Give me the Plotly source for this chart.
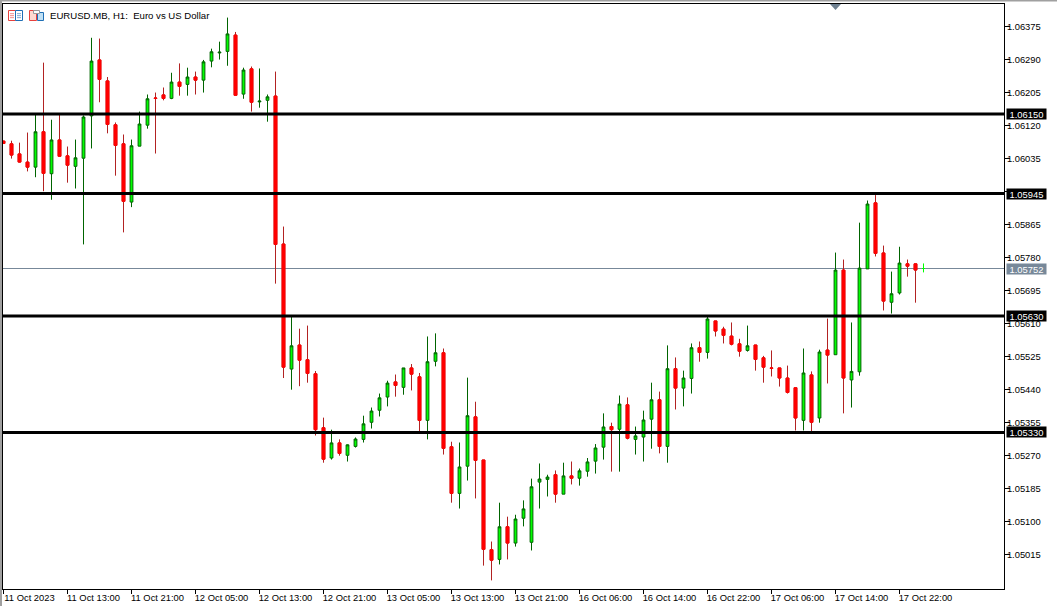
import plotly.graph_objects as go

opens = [1.06080,1.06073,1.06047,1.06026,1.06013,1.06104,1.05996,1.06083,1.06042,1.06015,1.06036,1.06145,1.06289,1.06235,1.06122,1.06073,
1.05923,1.06067,1.06121,1.06191,1.06199,1.06190,1.06232,1.06226,1.06245,1.06237,1.06286,1.06307,1.06311,1.06353,1.06201,1.06266,
1.06181,1.06185,1.06196,1.05815,1.05493,1.05555,1.05517,1.05481,1.05342,1.05264,1.05303,1.05271,1.05294,1.05312,1.05356,1.05387,
1.05421,1.05460,1.05446,1.05496,1.05473,1.05361,1.05513,1.05535,1.05293,1.05173,1.05243,1.05370,1.05259,1.05028,1.05003,1.05087,
1.05045,1.05109,1.05047,1.05202,1.05209,1.05221,1.05171,1.05218,1.05212,1.05230,1.05256,1.05292,1.05345,1.05338,1.05401,1.05312,
1.05318,1.05364,1.05414,1.05294,1.05494,1.05444,1.05469,1.05548,1.05536,1.05617,1.05596,1.05578,1.05558,1.05541,1.05555,1.05522,
1.05496,1.05496,1.05470,1.05445,1.05361,1.05478,1.05367,1.05542,1.05530,1.05748,1.05465,1.05486,1.05751,1.05921,1.05792,1.05665,
1.05689,1.05764,1.05764,1.05752]
highs = [1.06081,1.06081,1.06076,1.06102,1.06150,1.06282,1.06135,1.06150,1.06066,1.06084,1.06146,1.06346,1.06344,1.06245,1.06128,1.06097,
1.06084,1.06156,1.06200,1.06205,1.06218,1.06256,1.06280,1.06269,1.06259,1.06289,1.06318,1.06336,1.06398,1.06361,1.06269,1.06272,
1.06267,1.06200,1.06259,1.05860,1.05627,1.05597,1.05605,1.05488,1.05368,1.05337,1.05312,1.05299,1.05317,1.05373,1.05394,1.05430,
1.05463,1.05479,1.05496,1.05506,1.05483,1.05577,1.05585,1.05546,1.05306,1.05304,1.05471,1.05409,1.05259,1.05049,1.05149,1.05113,
1.05118,1.05155,1.05211,1.05250,1.05221,1.05232,1.05252,1.05255,1.05237,1.05264,1.05300,1.05379,1.05355,1.05425,1.05420,1.05345,
1.05386,1.05458,1.05435,1.05554,1.05523,1.05489,1.05559,1.05564,1.05628,1.05617,1.05602,1.05613,1.05571,1.05605,1.05555,1.05527,
1.05541,1.05496,1.05502,1.05445,1.05546,1.05487,1.05543,1.05623,1.05793,1.05775,1.05613,1.05870,1.05927,1.05941,1.05811,1.05744,
1.05808,1.05775,1.05764,1.05765]
lows = [1.06073,1.06035,1.06025,1.06002,1.05987,1.05951,1.05929,1.06041,1.05973,1.05958,1.05814,1.06061,1.06180,1.06100,1.05991,1.05845,
1.05910,1.06067,1.06112,1.06048,1.06185,1.06188,1.06197,1.06197,1.06200,1.06205,1.06270,1.06290,1.06274,1.06198,1.06189,1.06156,
1.06166,1.06130,1.05713,1.05470,1.05440,1.05449,1.05458,1.05322,1.05252,1.05260,1.05270,1.05255,1.05291,1.05304,1.05340,1.05371,
1.05397,1.05422,1.05427,1.05438,1.05330,1.05312,1.05500,1.05273,1.05149,1.05134,1.05206,1.05160,1.04987,1.04949,1.04990,1.05003,
1.05036,1.05088,1.05026,1.05134,1.05165,1.05149,1.05171,1.05196,1.05193,1.05216,1.05224,1.05260,1.05229,1.05229,1.05312,1.05273,
1.05255,1.05288,1.05276,1.05252,1.05389,1.05397,1.05430,1.05512,1.05520,1.05577,1.05559,1.05554,1.05525,1.05538,1.05489,1.05458,
1.05474,1.05448,1.05430,1.05335,1.05335,1.05330,1.05355,1.05456,1.05530,1.05379,1.05394,1.05476,1.05751,1.05783,1.05644,1.05636,
1.05685,1.05731,1.05664,1.05742]
closes = [1.06074,1.06044,1.06026,1.06013,1.06104,1.05997,1.06083,1.06041,1.06018,1.06037,1.06142,1.06286,1.06239,1.06123,1.06069,1.05925,
1.06068,1.06124,1.06189,1.06190,1.06190,1.06232,1.06221,1.06245,1.06237,1.06284,1.06310,1.06309,1.06356,1.06198,1.06263,1.06180,
1.06183,1.06194,1.05814,1.05498,1.05553,1.05516,1.05482,1.05337,1.05261,1.05303,1.05276,1.05298,1.05313,1.05352,1.05385,1.05419,
1.05457,1.05451,1.05496,1.05480,1.05361,1.05512,1.05535,1.05289,1.05173,1.05241,1.05373,1.05258,1.05029,1.05001,1.05087,1.05045,
1.05107,1.05133,1.05190,1.05210,1.05215,1.05171,1.05218,1.05212,1.05231,1.05254,1.05290,1.05344,1.05337,1.05403,1.05315,1.05321,
1.05362,1.05414,1.05294,1.05494,1.05444,1.05470,1.05548,1.05536,1.05622,1.05591,1.05580,1.05557,1.05539,1.05553,1.05518,1.05498,
1.05495,1.05470,1.05433,1.05367,1.05483,1.05356,1.05537,1.05529,1.05748,1.05470,1.05487,1.05753,1.05918,1.05791,1.05668,1.05687,
1.05766,1.05758,1.05748,1.05752]

xtick_idx = [0,8,16,24,32,40,48,56,64,72,80,88,96,104,112]
xtick_labels = ["11 Oct 2023","11 Oct 13:00","11 Oct 21:00","12 Oct 05:00","12 Oct 13:00","12 Oct 21:00",
                "13 Oct 05:00","13 Oct 13:00","13 Oct 21:00","16 Oct 06:00","16 Oct 14:00","16 Oct 22:00",
                "17 Oct 06:00","17 Oct 14:00","17 Oct 22:00"]
ytick_vals = [1.06375,1.06290,1.06205,1.06120,1.06035,1.05950,1.05865,1.05780,1.05695,1.05610,1.05525,1.05440,1.05355,1.05270,1.05185,1.05100,1.05015]
ytick_labels = ["1.06375","1.06290","1.06205","1.06120","1.06035","","1.05865","1.05780","1.05695","1.05610","1.05525","1.05440","1.05355","1.05270","1.05185","1.05100","1.05015"]
levels = [1.06150,1.05945,1.05630,1.05330]
current_price = 1.05752
title_text = "EURUSD.MB, H1:  Euro vs US Dollar"

FONT = "Liberation Sans, Arial, sans-serif"
W, H = 1057, 606
L, R, T, B = 3, 53, 4, 17
pw, ph = W - L - R, H - T - B
def px(x): return (x - L) / pw
def py(y): return 1 - (y - T) / ph

n = len(opens)
xs = list(range(n))
down = [i for i in xs if closes[i] < opens[i]]

fig = go.Figure()
fig.add_trace(go.Candlestick(
    x=xs[:-1], open=opens[:-1], high=highs[:-1], low=lows[:-1], close=closes[:-1],
    increasing=dict(line=dict(color="#006400", width=1), fillcolor="#00FF00"),
    decreasing=dict(line=dict(color="#B22222", width=1), fillcolor="#FF0000"),
    whiskerwidth=0, showlegend=False, hoverinfo="skip"))
fig.add_trace(go.Candlestick(
    x=down, open=[opens[i] for i in down], close=[closes[i] for i in down],
    high=[opens[i] for i in down], low=[closes[i] for i in down],
    decreasing=dict(line=dict(color="#FF0000", width=1), fillcolor="#FF0000"),
    whiskerwidth=0, showlegend=False, hoverinfo="skip"))
fig.add_trace(go.Candlestick(
    x=xs[-1:], open=opens[-1:], high=highs[-1:], low=lows[-1:], close=closes[-1:],
    increasing=dict(line=dict(color="#00FF00", width=1), fillcolor="#00FF00"),
    whiskerwidth=0, showlegend=False, hoverinfo="skip"))

shapes = [dict(type="line", xref="paper", x0=0, x1=1, yref="y", y0=current_price, y1=current_price,
               line=dict(color="#778899", width=1), layer="below")]
for lv in levels:
    shapes.append(dict(type="line", xref="paper", x0=0, x1=1, yref="y", y0=lv, y1=lv,
                       line=dict(color="#000000", width=3), layer="above"))

def rect(x0, y0, x1, y1, fill, line=None, w=1):
    return dict(type="rect", xref="paper", yref="paper", x0=px(x0), x1=px(x1), y0=py(y0), y1=py(y1),
                fillcolor=fill, line=dict(color=line or fill, width=w if line else 0), layer="above")

# window chrome
shapes.append(rect(0, 0, W, 1.5, "#A0A0A0"))
shapes.append(rect(0, 0, 2, H, "#A0A0A0"))
# toolbar icons
shapes += [rect(8.5, 10.5, 15.5, 20.5, "#FFFFFF", "#E8413C"), rect(15.5, 10.5, 22.5, 20.5, "#FFFFFF", "#1F6FB5")]
for yy in (13.5, 15.5, 17.5):
    shapes += [rect(10, yy, 14, yy + .6, "#E8413C"), rect(17, yy, 21, yy + .6, "#1F6FB5")]
shapes += [rect(29.5, 10.5, 36.5, 20.5, "#FFD9CF", "#E8413C"), rect(37.5, 12.5, 43.5, 20.5, "#BFE0F5", "#1F6FB5"),
           rect(33.5, 10.5, 39.5, 13.5, "#FFFFFF", "#999999")]
# scroll marker
shapes.append(dict(type="path", xref="paper", yref="paper",
                   path=f"M {px(830)} {py(4)} L {px(841)} {py(4)} L {px(835.5)} {py(10)} Z",
                   fillcolor="#6E8090", line=dict(width=0), layer="above"))

anns = [dict(text=title_text, xref="paper", yref="paper", x=px(48), y=py(15.5), xanchor="left", yanchor="middle",
             showarrow=False, font=dict(family=FONT, size=9.6, color="#000000"))]
for lv, bg in [(l, "#000000") for l in levels] + [(current_price, "#778899")]:
    anns.append(dict(text=f"{lv:.5f}", xref="paper", yref="y", x=px(1006), y=lv, xanchor="left", yanchor="middle",
                     showarrow=False, bgcolor=bg, borderpad=0, width=39, height=10, align="center",
                     font=dict(family=FONT, size=9.4, color="#FFFFFF")))

fig.update_layout(
    width=W, height=H, margin=dict(l=L, r=R, t=T, b=B, pad=0, autoexpand=False),
    paper_bgcolor="#FFFFFF", plot_bgcolor="#FFFFFF", showlegend=False, boxgap=0.5, boxmode="overlay",
    shapes=shapes, annotations=anns,
    xaxis=dict(range=[-0.0625, 125.0625], rangeslider=dict(visible=False), tickmode="array",
               tickvals=xtick_idx, ticktext=xtick_labels, ticks="outside", ticklen=4, tickcolor="#000000",
               tickwidth=1, showgrid=False, zeroline=False, showline=True, linecolor="#000000", linewidth=1,
               mirror=True, tickangle=0, ticklabelshift=26, ticklabelstandoff=-4,
               tickfont=dict(family=FONT, size=9.4, color="#000000")),
    yaxis=dict(range=[1.049268, 1.064330], side="right", tickmode="array", tickvals=ytick_vals,
               ticktext=ytick_labels, ticks="outside", ticklen=5, tickcolor="#000000",
               tickwidth=1, showgrid=False, zeroline=False, showline=True, linecolor="#000000", linewidth=1,
               mirror=True, ticklabelstandoff=-5,
               tickfont=dict(family=FONT, size=9.4, color="#000000")),
)
fig.write_html("out.html", config=dict(displayModeBar=False),
               post_script="document.body.style.margin='0';document.documentElement.style.overflow='hidden';")
